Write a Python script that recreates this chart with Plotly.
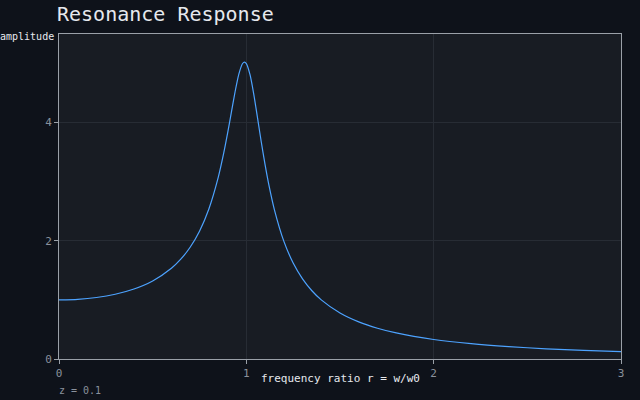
import plotly.graph_objects as go

r_vals = [0, 0.1, 0.2, 0.3, 0.4, 0.5, 0.6, 0.65, 0.7, 0.75, 0.8, 0.85, 0.88, 0.9, 0.92, 0.94, 0.96,
          0.98, 0.99, 1.0, 1.02, 1.04, 1.06, 1.08, 1.1, 1.12, 1.15, 1.2, 1.25, 1.3, 1.35, 1.4, 1.5,
          1.6, 1.7, 1.8, 2.0, 2.2, 2.4, 2.6, 2.8, 3.0]
amplitude = [1.000, 1.0099, 1.0408, 1.0965, 1.1851, 1.3216, 1.5357, 1.6893, 1.8908, 2.1622, 2.5384,
             3.0728, 3.4949, 3.8208, 4.1721, 4.5225, 4.8218, 5.0010, 5.0252, 5.0, 4.8086, 4.4756,
             4.0750, 3.6676, 3.2880, 2.9502, 2.5245, 1.9952, 1.6246, 1.3562, 1.1552, 1.0, 0.7779,
             0.6279, 0.5207, 0.4408, 0.3304, 0.2587, 0.2090, 0.1729, 0.1457, 0.1247]
x_ticks = [0, 1, 2, 3]
y_ticks = [0, 2, 4]

FONT = "DejaVu Sans Mono"
fig = go.Figure()
fig.add_trace(go.Scatter(x=r_vals, y=amplitude, mode="lines",
                         line=dict(color="#4da3ff", width=1.2, shape="spline", smoothing=0.6),
                         hoverinfo="skip"))

axis_common = dict(showline=True, linecolor="#9aa0a8", linewidth=1, mirror=True,
                   ticks="outside", ticklen=4, tickcolor="#9aa0a8",
                   gridcolor="#272c34", gridwidth=1, zeroline=False,
                   tickfont=dict(family=FONT, size=11, color="#8a919c"))
fig.update_layout(
    width=640, height=400,
    margin=dict(l=59, r=19, t=34, b=41),
    paper_bgcolor="#0e121a", plot_bgcolor="#181c23",
    showlegend=False,
    title=dict(text="Resonance Response", xref="container", yref="container",
               x=57/640, xanchor="left", y=1-14/400, yanchor="middle",
               font=dict(family=FONT, size=20, color="#e6e9ee")),
    xaxis=dict(range=[0, 3], tickvals=x_ticks, **axis_common),
    yaxis=dict(range=[0, 5.5], tickvals=y_ticks, **axis_common),
    annotations=[
        dict(text="amplitude", xref="paper", yref="paper", x=0, y=1, xanchor="right",
             yanchor="middle", xshift=-3, yshift=-2, showarrow=False,
             font=dict(family=FONT, size=10, color="#e6e9ee")),
        dict(text="frequency ratio r = w/w0", xref="paper", yref="paper", x=0.5, y=0,
             xanchor="center", yanchor="middle", yshift=-19, showarrow=False,
             font=dict(family=FONT, size=11, color="#e6e9ee")),
        dict(text="z = 0.1", xref="paper", yref="paper", x=0, y=0,
             xanchor="left", yanchor="middle", xshift=-2, yshift=-31, showarrow=False,
             font=dict(family=FONT, size=10, color="#8a919c")),
    ],
)
fig.write_html("out.html")
